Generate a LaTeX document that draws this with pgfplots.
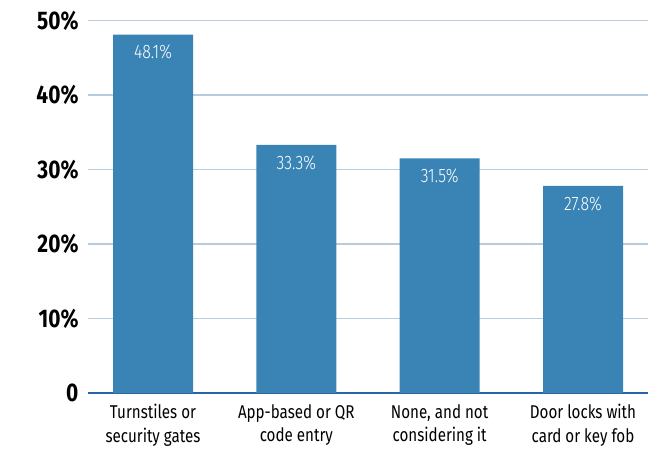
\documentclass[border=0pt]{standalone}
\usepackage{pgfplots}
\pgfplotsset{compat=1.18}
\usepackage{fontspec}
\setmainfont{Fira Sans}[FakeStretch=0.82]
\newfontfamily\lightfont{Fira Sans Light}[FakeStretch=0.82]
\definecolor{barblue}{RGB}{58,132,181}
\definecolor{axisblue}{RGB}{40,100,170}
\definecolor{gridblue}{RGB}{184,204,222}
\begin{document}
\begin{tikzpicture}
\begin{axis}[
  at={(0,0)}, anchor=south west,
  scale only axis,
  width=560pt, height=372.5pt,
  xmin=-0.4535, xmax=3.4535,
  ymin=0, ymax=50,
  ytick={0,10,20,30,40,50},
  yticklabels={0,10\%,20\%,30\%,40\%,50\%},
  yticklabel style={font=\fontsize{25.5}{28}\selectfont\bfseries, xshift=-6pt},
  xtick={0,1,2,3},
  xticklabels={{Turnstiles or\\security gates},{App-based or QR\\code entry},{None, and not\\considering it},{Door locks with\\card or key fob}},
  xticklabel style={font=\fontsize{18.5}{23.5}\selectfont, align=center, yshift=-8pt},
  major tick length=0pt,
  axis x line*=bottom,
  axis y line*=left,
  y axis line style={draw=none},
  x axis line style={draw=axisblue, line width=2.8pt, -},
  ymajorgrids,
  grid style={draw=gridblue, line width=1.4pt},
  ybar, bar width=80pt,
  nodes near coords,
  point meta=explicit symbolic,
  every node near coord/.append style={anchor=north, yshift=-7pt, text=white, font=\fontsize{19.5}{22}\lightfont},
  clip=false,
]
\addplot[fill=barblue, draw=none] table[meta=lab] {
x y lab
0 48.1 48.1\%
1 33.3 33.3\%
2 31.5 31.5\%
3 27.8 27.8\%
};
\end{axis}
\pgfresetboundingbox
\useasboundingbox (-88pt,-55pt) rectangle (575pt,393pt);
\end{tikzpicture}
\end{document}
